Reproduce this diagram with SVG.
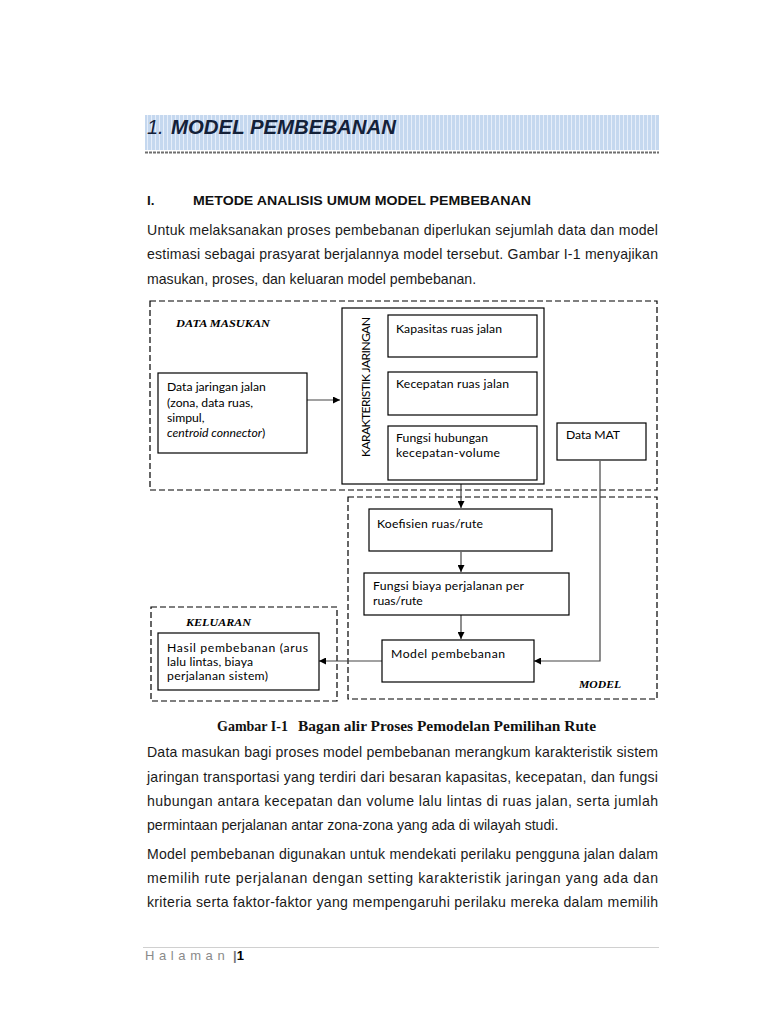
<svg xmlns="http://www.w3.org/2000/svg" width="768" height="1024" viewBox="0 0 768 1024">
<style>
.body{font-family:"Liberation Sans",Arial,sans-serif;font-size:14.1px;fill:#1a1a1a}
.box{fill:#fff;stroke:#000;stroke-width:1.2}
.grp{fill:none;stroke:#000;stroke-width:1.2;stroke-dasharray:6 3}
.lbl{font-family:Lato,"Noto Sans",sans-serif;font-size:12.2px;fill:#000}
.gl{font-family:"Liberation Serif",serif;font-size:11px;font-weight:bold;font-style:italic;fill:#000}
.con{fill:none;stroke:#444;stroke-width:1.2}
</style>
<defs>
<pattern id="stripe" width="4" height="10" patternUnits="userSpaceOnUse">
<rect width="4" height="10" fill="#c5d8ef"/>
<rect x="3" width="1" height="10" fill="#e6eefa"/>
</pattern>
<marker id="ah" viewBox="0 0 10 10" refX="10" refY="5" markerWidth="7" markerHeight="7" orient="auto" markerUnits="userSpaceOnUse">
<path d="M0,0 L10,5 L0,10 z" fill="#000"/>
</marker>
</defs>
<rect width="768" height="1024" fill="#fff"/>

<g id="title">
<rect x="145" y="115" width="514" height="35" fill="url(#stripe)"/>
<line x1="145" y1="152.5" x2="659" y2="152.5" stroke="#6f6f6f" stroke-width="2" stroke-dasharray="3 1"/>
<text x="147" y="134" font-family="Liberation Sans,Arial,sans-serif" font-size="20" font-style="italic" fill="#142139">1.</text>
<text x="171" y="134" font-family="Liberation Sans,Arial,sans-serif" font-size="20" font-style="italic" font-weight="bold" fill="#142139" textLength="225" lengthAdjust="spacingAndGlyphs">MODEL PEMBEBANAN</text>
</g>

<g id="heading">
<text x="147" y="205" font-family="Liberation Sans,Arial,sans-serif" font-size="13.5" font-weight="bold" fill="#111">I.</text>
<text x="193" y="205" font-family="Liberation Sans,Arial,sans-serif" font-size="13.5" font-weight="bold" fill="#111" textLength="338" lengthAdjust="spacingAndGlyphs">METODE ANALISIS UMUM MODEL PEMBEBANAN</text>
</g>

<g id="para1" class="body">
<text x="147" y="235" textLength="511" lengthAdjust="spacing">Untuk melaksanakan proses pembebanan diperlukan sejumlah data dan model</text>
<text x="147" y="259" textLength="511" lengthAdjust="spacing">estimasi sebagai prasyarat berjalannya model tersebut. Gambar I-1 menyajikan</text>
<text x="147" y="284">masukan, proses, dan keluaran model pembebanan.</text>
</g>

<g id="grp-masukan">
<rect class="grp" x="150" y="301" width="507" height="189"/>
<text class="gl" x="176" y="327" textLength="94" lengthAdjust="spacingAndGlyphs">DATA MASUKAN</text>
</g>
<g id="grp-model">
<rect class="grp" x="348" y="497" width="309" height="202"/>
<text class="gl" x="579" y="688" textLength="42" lengthAdjust="spacingAndGlyphs">MODEL</text>
</g>
<g id="grp-keluaran">
<rect class="grp" x="151" y="607" width="186" height="94"/>
<text class="gl" x="186" y="626" textLength="65" lengthAdjust="spacingAndGlyphs">KELUARAN</text>
</g>

<g id="connectors">
<line class="con" x1="307" y1="400" x2="340" y2="400" marker-end="url(#ah)"/>
<line class="con" x1="461" y1="484" x2="461" y2="508" marker-end="url(#ah)"/>
<line class="con" x1="461" y1="552" x2="461" y2="572" marker-end="url(#ah)"/>
<line class="con" x1="461" y1="615" x2="461" y2="639" marker-end="url(#ah)"/>
<polyline class="con" points="600,461 600,661 534,661" marker-end="url(#ah)"/>
<line class="con" x1="382" y1="661" x2="319" y2="661" marker-end="url(#ah)"/>
</g>

<g id="node-datajaringan">
<rect class="box" x="158" y="373" width="149" height="80"/>
<text class="lbl" x="167" y="391" font-size="13.5">Data jaringan jalan</text>
<text class="lbl" x="167" y="407" font-size="13">(zona, data ruas,</text>
<text class="lbl" x="167" y="422" font-size="13">simpul,</text>
<text class="lbl" x="167" y="437" font-size="13"><tspan font-style="italic">centroid connector</tspan>)</text>
</g>

<g id="node-karakteristik">
<rect class="box" x="342" y="308" width="202" height="176"/>
<text class="lbl" transform="translate(370,387) rotate(-90)" text-anchor="middle" textLength="140" lengthAdjust="spacing">KARAKTERISTIK JARINGAN</text>
</g>
<g id="node-kapasitas">
<rect class="box" x="388" y="315" width="149" height="42"/>
<text class="lbl" x="396" y="333" textLength="106" lengthAdjust="spacing">Kapasitas ruas jalan</text>
</g>
<g id="node-kecepatan">
<rect class="box" x="388" y="372" width="149" height="43"/>
<text class="lbl" x="396" y="388" textLength="113" lengthAdjust="spacing">Kecepatan ruas jalan</text>
</g>
<g id="node-fungsihub">
<rect class="box" x="388" y="426" width="149" height="54"/>
<text class="lbl" x="396" y="442" textLength="92" lengthAdjust="spacing">Fungsi hubungan</text>
<text class="lbl" x="396" y="457" textLength="104" lengthAdjust="spacing">kecepatan-volume</text>
</g>
<g id="node-datamat">
<rect class="box" x="557" y="423" width="89" height="37"/>
<text class="lbl" x="566" y="439" textLength="54" lengthAdjust="spacing">Data MAT</text>
</g>
<g id="node-koefisien">
<rect class="box" x="369" y="509" width="183" height="42"/>
<text class="lbl" x="377" y="528" textLength="106" lengthAdjust="spacing">Koefisien ruas/rute</text>
</g>
<g id="node-fungsibiaya">
<rect class="box" x="364" y="573" width="205" height="42"/>
<text class="lbl" x="373" y="590" textLength="151" lengthAdjust="spacing">Fungsi biaya perjalanan per</text>
<text class="lbl" x="373" y="605">ruas/rute</text>
</g>
<g id="node-model">
<rect class="box" x="382" y="640" width="152" height="42"/>
<text class="lbl" x="391" y="658" textLength="114" lengthAdjust="spacing">Model pembebanan</text>
</g>
<g id="node-hasil">
<rect class="box" x="158" y="633" width="161" height="57"/>
<text class="lbl" x="167" y="652" textLength="141" lengthAdjust="spacing">Hasil pembebanan  (arus</text>
<text class="lbl" x="167" y="666" textLength="86" lengthAdjust="spacing">lalu lintas, biaya</text>
<text class="lbl" x="167" y="680" textLength="101" lengthAdjust="spacing">perjalanan sistem)</text>
</g>

<g id="caption" font-family="Liberation Serif,serif" font-size="14" font-weight="bold" fill="#111">
<text x="217" y="731">Gambar I-1</text>
<text x="298" y="731" textLength="298" lengthAdjust="spacingAndGlyphs">Bagan alir Proses Pemodelan Pemilihan Rute</text>
</g>

<g id="para2" class="body">
<text x="147" y="757" textLength="511" lengthAdjust="spacing">Data masukan bagi proses model pembebanan merangkum karakteristik sistem</text>
<text x="147" y="782" textLength="511" lengthAdjust="spacing">jaringan transportasi yang terdiri dari besaran kapasitas, kecepatan, dan fungsi</text>
<text x="147" y="806" textLength="511" lengthAdjust="spacing">hubungan antara kecepatan dan volume lalu lintas di ruas jalan, serta jumlah</text>
<text x="147" y="830">permintaan perjalanan antar zona-zona yang ada di wilayah studi.</text>
</g>
<g id="para3" class="body">
<text x="147" y="859" textLength="511" lengthAdjust="spacing">Model pembebanan digunakan untuk mendekati perilaku pengguna jalan dalam</text>
<text x="147" y="883" textLength="511" lengthAdjust="spacing">memilih rute perjalanan dengan setting karakteristik jaringan yang ada dan</text>
<text x="147" y="907" textLength="511" lengthAdjust="spacing">kriteria serta faktor-faktor yang mempengaruhi perilaku mereka dalam memilih</text>
</g>

<g id="footer">
<line x1="143" y1="947.5" x2="659" y2="947.5" stroke="#d0d0d0" stroke-width="1"/>
<text x="145" y="960" font-family="Liberation Sans,Arial,sans-serif" font-size="13" fill="#8a8a8a" letter-spacing="4.6">Halaman</text>
<text x="233" y="960" font-family="Liberation Sans,Arial,sans-serif" font-size="13" font-weight="bold"><tspan fill="#777">|</tspan><tspan fill="#000">1</tspan></text>
</g>
</svg>
